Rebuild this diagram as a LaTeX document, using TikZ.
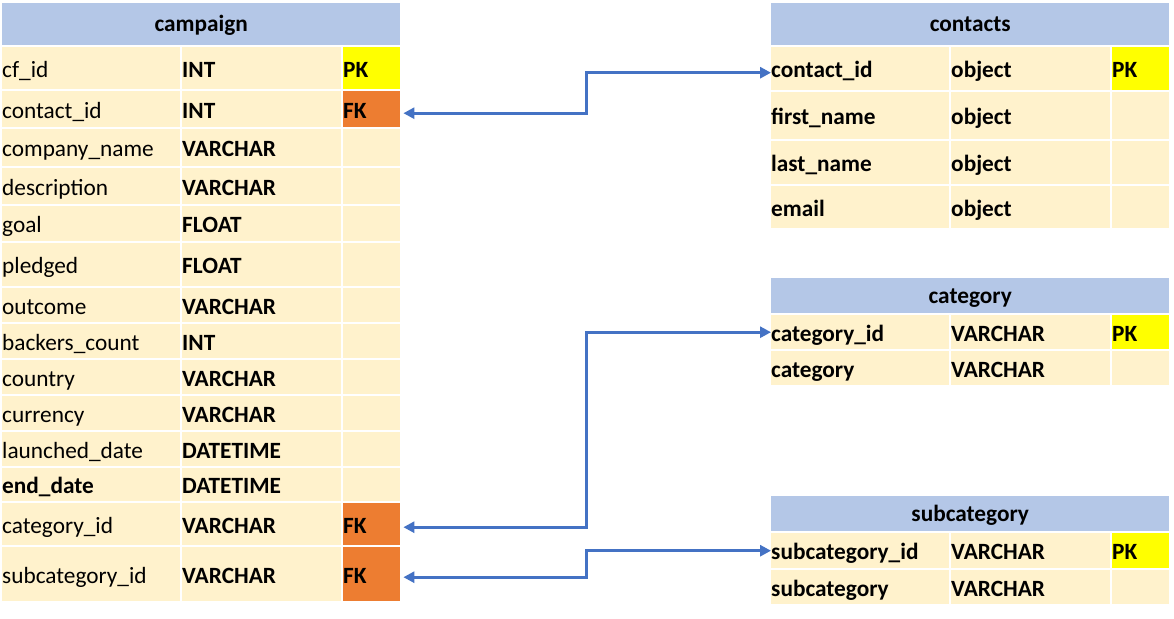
\documentclass[tikz,border=0pt]{standalone}
\usepackage{fontspec}
\setmainfont{Carlito}
\usetikzlibrary{arrows.meta}

\definecolor{hdrblue}{HTML}{B4C7E7}
\definecolor{rowcream}{HTML}{FFF2CC}
\definecolor{pkyellow}{HTML}{FFFF00}
\definecolor{fkorange}{HTML}{ED7D31}
\definecolor{linkblue}{HTML}{4472C4}

\tikzset{
  cell/.style={fill=rowcream, inner sep=0pt, anchor=north west, align=left,
    text height=18pt, text depth=0pt},
  namecol/.style={cell, text width=178pt},
  typecol/.style={cell, text width=159pt, font=\bfseries},
  keycol/.style={cell, text width=57pt, font=\bfseries},
  pk/.style={keycol, fill=pkyellow},
  fk/.style={keycol, fill=fkorange},
  tblhead/.style={fill=hdrblue, inner sep=0pt, anchor=north west, text width=398pt,
    align=center, text height=15pt, text depth=0pt, font=\bfseries},
  link/.style={draw=linkblue, line width=3pt,
    {Triangle[length=11pt,width=11pt]}-{Triangle[length=11pt,width=11pt]}}
}

\begin{document}
\begin{tikzpicture}[x=1pt,y=-1pt]
\fill[white] (0,0) rectangle (1174,618);
\useasboundingbox (0,0) rectangle (1174,618);
\fontsize{23.3}{28}\selectfont

% campaign
\node[tblhead, minimum height=42pt] (cp-head) at (2,3) {campaign};
\node[namecol, minimum height=42pt] (cp-cfid) at (2,47) {cf\_id};
\node[typecol, minimum height=42pt] (cp-cfid-type) at (182,47) {INT};
\node[pk, minimum height=42pt] (cp-cfid-key) at (343,47) {PK};
\node[namecol, minimum height=36pt] (cp-contactid) at (2,91) {contact\_id};
\node[typecol, minimum height=36pt] (cp-contactid-type) at (182,91) {INT};
\node[fk, minimum height=36pt] (cp-contactid-key) at (343,91) {FK};
\node[namecol, minimum height=37pt] (cp-company) at (2,129) {company\_name};
\node[typecol, minimum height=37pt] (cp-company-type) at (182,129) {VARCHAR};
\node[keycol, minimum height=37pt] (cp-company-key) at (343,129) {};
\node[namecol, minimum height=36pt] (cp-descr) at (2,168) {description};
\node[typecol, minimum height=36pt] (cp-descr-type) at (182,168) {VARCHAR};
\node[keycol, minimum height=36pt] (cp-descr-key) at (343,168) {};
\node[namecol, minimum height=35pt] (cp-goal) at (2,206) {goal};
\node[typecol, minimum height=35pt] (cp-goal-type) at (182,206) {FLOAT};
\node[keycol, minimum height=35pt] (cp-goal-key) at (343,206) {};
\node[namecol, minimum height=43pt] (cp-pledged) at (2,243) {pledged};
\node[typecol, minimum height=43pt] (cp-pledged-type) at (182,243) {FLOAT};
\node[keycol, minimum height=43pt] (cp-pledged-key) at (343,243) {};
\node[namecol, minimum height=34pt] (cp-outcome) at (2,288) {outcome};
\node[typecol, minimum height=34pt] (cp-outcome-type) at (182,288) {VARCHAR};
\node[keycol, minimum height=34pt] (cp-outcome-key) at (343,288) {};
\node[namecol, minimum height=34pt] (cp-backers) at (2,324) {backers\_count};
\node[typecol, minimum height=34pt] (cp-backers-type) at (182,324) {INT};
\node[keycol, minimum height=34pt] (cp-backers-key) at (343,324) {};
\node[namecol, minimum height=34pt] (cp-country) at (2,360) {country};
\node[typecol, minimum height=34pt] (cp-country-type) at (182,360) {VARCHAR};
\node[keycol, minimum height=34pt] (cp-country-key) at (343,360) {};
\node[namecol, minimum height=34pt] (cp-currency) at (2,396) {currency};
\node[typecol, minimum height=34pt] (cp-currency-type) at (182,396) {VARCHAR};
\node[keycol, minimum height=34pt] (cp-currency-key) at (343,396) {};
\node[namecol, minimum height=34pt] (cp-launched) at (2,432) {launched\_date};
\node[typecol, minimum height=34pt] (cp-launched-type) at (182,432) {DATETIME};
\node[keycol, minimum height=34pt] (cp-launched-key) at (343,432) {};
\node[namecol, minimum height=33pt, font=\bfseries] (cp-end) at (2,468) {end\_date};
\node[typecol, minimum height=33pt] (cp-end-type) at (182,468) {DATETIME};
\node[keycol, minimum height=33pt] (cp-end-key) at (343,468) {};
\node[namecol, minimum height=42pt] (cp-catid) at (2,503) {category\_id};
\node[typecol, minimum height=42pt] (cp-catid-type) at (182,503) {VARCHAR};
\node[fk, minimum height=42pt] (cp-catid-key) at (343,503) {FK};
\node[namecol, minimum height=54pt] (cp-subcatid) at (2,547) {subcategory\_id};
\node[typecol, minimum height=54pt] (cp-subcatid-type) at (182,547) {VARCHAR};
\node[fk, minimum height=54pt] (cp-subcatid-key) at (343,547) {FK};

% contacts
\node[tblhead, minimum height=42pt] (ct-head) at (771,3) {contacts};
\node[namecol, font=\bfseries, minimum height=43pt] (ct-contactid) at (771,47) {contact\_id};
\node[typecol, minimum height=43pt] (ct-contactid-type) at (951,47) {object};
\node[pk, minimum height=43pt] (ct-contactid-key) at (1112,47) {PK};
\node[namecol, font=\bfseries, minimum height=47pt] (ct-first) at (771,92) {first\_name};
\node[typecol, minimum height=47pt] (ct-first-type) at (951,92) {object};
\node[keycol, minimum height=47pt] (ct-first-key) at (1112,92) {};
\node[namecol, font=\bfseries, minimum height=43pt] (ct-last) at (771,141) {last\_name};
\node[typecol, minimum height=43pt] (ct-last-type) at (951,141) {object};
\node[keycol, minimum height=43pt] (ct-last-key) at (1112,141) {};
\node[namecol, font=\bfseries, minimum height=42pt] (ct-email) at (771,186) {email};
\node[typecol, minimum height=42pt] (ct-email-type) at (951,186) {object};
\node[keycol, minimum height=42pt] (ct-email-key) at (1112,186) {};

% category
\node[tblhead, minimum height=35pt] (cg-head) at (771,278) {category};
\node[namecol, font=\bfseries, minimum height=34pt] (cg-catid) at (771,315) {category\_id};
\node[typecol, minimum height=34pt] (cg-catid-type) at (951,315) {VARCHAR};
\node[pk, minimum height=34pt] (cg-catid-key) at (1112,315) {PK};
\node[namecol, font=\bfseries, minimum height=34pt] (cg-cat) at (771,351) {category};
\node[typecol, minimum height=34pt] (cg-cat-type) at (951,351) {VARCHAR};
\node[keycol, minimum height=34pt] (cg-cat-key) at (1112,351) {};

% subcategory
\node[tblhead, minimum height=35pt] (sc-head) at (771,496) {subcategory};
\node[namecol, font=\bfseries, minimum height=35pt] (sc-subcatid) at (771,533) {subcategory\_id};
\node[typecol, minimum height=35pt] (sc-subcatid-type) at (951,533) {VARCHAR};
\node[pk, minimum height=35pt] (sc-subcatid-key) at (1112,533) {PK};
\node[namecol, font=\bfseries, minimum height=34pt] (sc-subcat) at (771,570) {subcategory};
\node[typecol, minimum height=34pt] (sc-subcat-type) at (951,570) {VARCHAR};
\node[keycol, minimum height=34pt] (sc-subcat-key) at (1112,570) {};

% relations
\coordinate (bus) at (586,0);
\draw[link, shorten >=3pt] ([yshift=-4pt]ct-contactid.west) -- ([yshift=-4pt]ct-contactid.west -| bus) |- ([yshift=-4pt]cp-contactid-key.east);
\draw[link, shorten >=3pt] (cg-catid.west) -- (cg-catid.west -| bus) |- ([yshift=-3pt]cp-catid-key.east);
\draw[link, shorten >=3pt] (sc-subcatid.west) -- (sc-subcatid.west -| bus) |- ([yshift=-3pt]cp-subcatid-key.east);
\end{tikzpicture}
\end{document}
